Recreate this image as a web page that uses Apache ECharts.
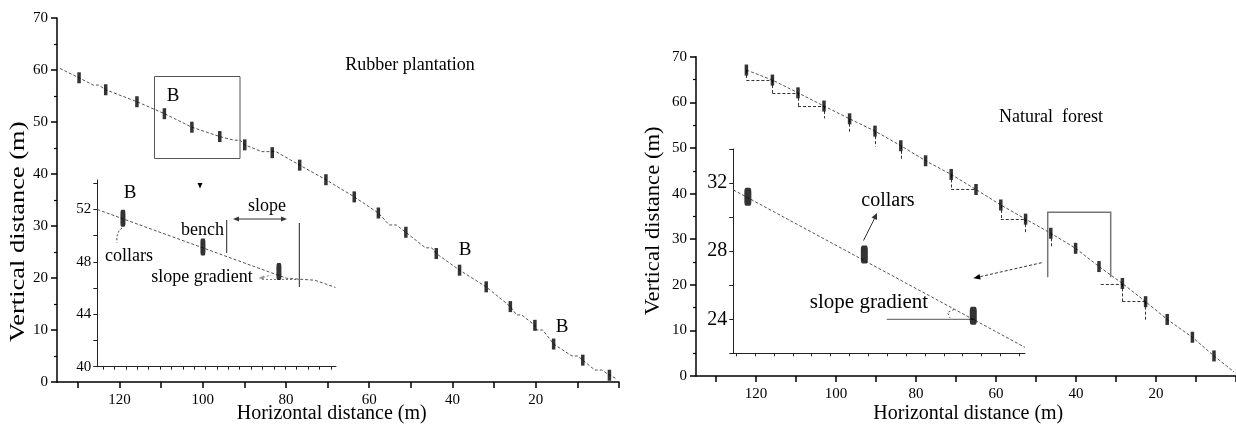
<!DOCTYPE html>
<html>
<head>
<meta charset="utf-8">
<script src="https://cdn.jsdelivr.net/npm/echarts@6/dist/echarts.min.js"></script>
<style>
html, body { margin: 0; padding: 0; background: #fff; }
#chart { width: 1236px; height: 425px; }
</style>
</head>
<body>
<div id="chart"></div>
<script>
// ---- Rubber plantation (left panel) ----
const rubberProfileX = [134.3, 129.7, 126.3, 125.0, 123.3, 115.8, 109.2, 102.6, 95.9, 92.5, 91.0, 89.9, 85.8, 82.4, 76.7, 70.4, 63.6, 57.8, 55.2, 53.5, 51.2, 46.5, 45.0, 43.9, 38.3, 31.9, 26.1, 24.6, 23.4, 20.2, 19.8, 18.3, 15.7, 11.3, 9.9, 8.7, 5.8, 4.1, 2.3, 0.5];
const rubberProfileY = [60.3, 58.5, 57.1, 57.1, 56.2, 53.9, 51.6, 49.0, 47.2, 46.5, 46.5, 45.6, 44.3, 44.3, 41.7, 38.9, 35.6, 32.5, 30.2, 30.2, 28.8, 25.8, 25.8, 24.7, 21.5, 18.3, 14.5, 12.9, 12.9, 10.9, 10.0, 10.0, 7.3, 5.0, 5.0, 4.2, 2.3, 2.3, 1.3, 0.6];
const rubberCollarX = [129.7, 123.3, 115.8, 109.2, 102.6, 95.9, 89.9, 83.3, 76.7, 70.4, 63.6, 57.8, 51.2, 43.9, 38.3, 31.9, 26.1, 20.2, 15.7, 8.7, 2.3];
const rubberCollarY = [58.5, 56.2, 53.9, 51.6, 49.0, 47.2, 45.6, 44.1, 41.7, 38.9, 35.6, 32.5, 28.8, 24.7, 21.5, 18.3, 14.5, 10.9, 7.3, 4.2, 1.3];
// inset "B" (local position units)
const rubberInsetLineX = [-0.5, 16.1, 18.6, 20.4];
const rubberInsetLineY = [52.0, 46.75, 46.6, 46.05];
const rubberInsetCollarX = [1.75, 8.77, 15.44];
const rubberInsetCollarY = [51.33, 49.14, 47.27];

// ---- Natural forest (right panel) ----
const forestCollarX = [122.4, 115.9, 109.5, 103.0, 96.6, 90.25, 83.8, 77.6, 71.2, 65.0, 58.8, 52.6, 46.3, 40.1, 34.25, 28.4, 22.6, 17.2, 10.9, 5.5];
const forestCollarY = [67.1, 64.9, 62.1, 59.2, 56.4, 53.7, 50.5, 47.2, 44.2, 40.9, 37.5, 34.4, 31.3, 28.0, 24.0, 20.3, 16.3, 12.4, 8.5, 4.4];
const forestEndX = 0.5;
const forestEndY = 0.9;
// dashed bench / step segments [x1, y1, x2, y2]
const forestBenches = [
  [122.4, 67.1, 122.4, 64.9], [122.4, 64.9, 115.9, 64.9],
  [115.9, 64.9, 115.9, 62.0], [115.9, 62.0, 109.5, 62.0],
  [109.5, 62.1, 109.5, 59.2], [109.5, 59.2, 103.0, 59.2],
  [103.0, 59.2, 103.0, 56.5], [96.6, 56.4, 96.6, 53.6],
  [90.25, 53.7, 90.25, 50.3], [83.8, 50.5, 83.8, 47.4],
  [71.2, 44.2, 71.2, 40.9], [71.2, 40.9, 65.0, 40.9],
  [58.8, 37.5, 58.8, 34.4], [58.8, 34.4, 52.6, 34.4],
  [52.6, 34.4, 52.6, 31.3], [46.3, 31.3, 46.3, 28.0],
  [33.8, 20.1, 28.4, 20.1], [28.4, 20.3, 28.4, 16.3],
  [28.4, 16.3, 22.6, 16.3], [22.6, 16.3, 22.6, 12.3]
];
const forestInsetLineX = [-0.15, 15.3];
const forestInsetLineY = [31.6, 22.35];
const forestInsetCollarX = [0.62, 6.79, 12.56];
const forestInsetCollarY = [31.2, 27.8, 24.2];

// ---- ticks ----
const mainXTicks = [0, 10, 20, 30, 40, 50, 60, 70, 80, 90, 100, 110, 120, 130];
const mainXLabels = [20, 40, 60, 80, 100, 120];
const rubberInsetXTicks = [0, 1, 2, 3, 4, 5, 6, 7, 8, 9, 10, 11, 12, 13, 14, 15, 16, 17, 18, 19, 20];
const rubberInsetYTicks = [40, 42, 44, 46, 48, 50, 52, 54];
const rubberInsetYLabels = [40, 44, 48, 52];
const forestInsetXTicks = [0, 1, 2, 3, 4, 5, 6, 7, 8, 9, 10, 11, 12, 13, 14, 15];
const forestInsetYTicks = [22, 24, 26, 28, 30, 32, 34];
const forestInsetYLabels = [24, 28, 32];

const zip = (xs, ys) => xs.map((x, i) => [x, ys[i]]);
const FONT = "Liberation Serif";

const chart = echarts.init(document.getElementById("chart"));

const mainX = (grid) => ({
  type: "value", gridIndex: grid, min: 0, max: 135, inverse: true,
  axisLine: { onZero: false, lineStyle: { color: "#000", width: 1.5 } },
  axisTick: { customValues: mainXTicks, length: 6, lineStyle: { width: 1.5 } },
  axisLabel: { customValues: mainXLabels, color: "#000", fontFamily: FONT, fontSize: 15, margin: 11 },
  splitLine: { show: false },
});
const mainY = (grid) => ({
  type: "value", gridIndex: grid, min: 0, max: 70, interval: 10,
  axisLine: { show: true, onZero: false, lineStyle: { color: "#000", width: 1.5 } },
  axisTick: { length: 6, lineStyle: { width: 1.5 } },
  minorTick: { show: true, splitNumber: 2, length: 3, lineStyle: { color: "#000", width: 1.2 } },
  axisLabel: { color: "#000", fontFamily: FONT, fontSize: 15, margin: 9 },
  splitLine: { show: false },
});
const insetX = (grid, min, max, ticks) => ({
  type: "value", gridIndex: grid, min: min, max: max,
  axisLine: { onZero: false, lineStyle: { color: "#222", width: 1 } },
  axisTick: { customValues: ticks, length: 3, lineStyle: { color: "#222" } },
  axisLabel: { show: false },
  splitLine: { show: false },
});
const insetY = (grid, min, max, ticks, labels, size) => ({
  type: "value", gridIndex: grid, min: min, max: max,
  axisLine: { show: true, onZero: false, lineStyle: { color: "#222", width: 1 } },
  axisTick: { customValues: ticks, length: 4, lineStyle: { color: "#222" } },
  axisLabel: { customValues: labels, color: "#000", fontFamily: FONT, fontSize: size, margin: 6 },
  splitLine: { show: false },
});

const profileStyle = { color: "#555", width: 1, type: [3, 2] };

const txt = (x, y, text, size, extra) => Object.assign({
  type: "text", x: x, y: y, silent: true,
  style: { text: text, fill: "#000", font: size + "px '" + FONT + "'", align: "center", verticalAlign: "middle" },
}, extra || {});
const seg = (x1, y1, x2, y2, stroke, width, dash) => ({
  type: "line", silent: true,
  shape: { x1: x1, y1: y1, x2: x2, y2: y2 },
  style: { stroke: stroke, lineWidth: width, lineDash: dash || null },
});
const tri = (pts, fill) => ({ type: "polygon", silent: true, shape: { points: pts }, style: { fill: fill } });

const option = {
  animation: false,
  backgroundColor: "#fff",
  grid: [
    { left: 57, top: 18, width: 562, height: 364 },
    { left: 97.3, top: 180, width: 238.7, height: 186.7 },
    { left: 696, top: 56.8, width: 540.5, height: 319.2 },
    { left: 733.3, top: 149, width: 291.7, height: 204.3 },
  ],
  xAxis: [
    mainX(0),
    insetX(1, -0.5, 20.45, rubberInsetXTicks),
    mainX(2),
    insetX(3, -0.15, 15.3, forestInsetXTicks),
  ],
  yAxis: [
    mainY(0),
    insetY(1, 40, 54.25, rubberInsetYTicks, rubberInsetYLabels, 15),
    mainY(2),
    insetY(3, 22, 34, forestInsetYTicks, forestInsetYLabels, 20),
  ],
  series: [
    { type: "line", xAxisIndex: 0, yAxisIndex: 0, data: zip(rubberProfileX, rubberProfileY),
      symbol: "none", lineStyle: profileStyle, z: 2 },
    { type: "scatter", xAxisIndex: 0, yAxisIndex: 0, data: zip(rubberCollarX, rubberCollarY),
      symbol: "rect", symbolSize: [3.5, 11], itemStyle: { color: "#000" }, z: 3 },
    { type: "line", xAxisIndex: 1, yAxisIndex: 1, data: zip(rubberInsetLineX, rubberInsetLineY),
      symbol: "none", lineStyle: profileStyle, z: 2 },
    { type: "scatter", xAxisIndex: 1, yAxisIndex: 1, data: zip(rubberInsetCollarX, rubberInsetCollarY),
      symbol: "roundRect", symbolSize: [5, 17], itemStyle: { color: "#000" }, z: 3 },
    { type: "line", xAxisIndex: 2, yAxisIndex: 2,
      data: zip(forestCollarX, forestCollarY).concat([[forestEndX, forestEndY]]),
      symbol: "none", lineStyle: profileStyle, z: 2 },
    { type: "lines", coordinateSystem: "cartesian2d", xAxisIndex: 2, yAxisIndex: 2,
      data: forestBenches.map((s) => ({ coords: [[s[0], s[1]], [s[2], s[3]]] })),
      lineStyle: { color: "#333", width: 1, type: [3, 2], opacity: 1 }, z: 2 },
    { type: "scatter", xAxisIndex: 2, yAxisIndex: 2, data: zip(forestCollarX, forestCollarY),
      symbol: "rect", symbolSize: [3.5, 11], itemStyle: { color: "#000" }, z: 3 },
    { type: "line", xAxisIndex: 3, yAxisIndex: 3, data: zip(forestInsetLineX, forestInsetLineY),
      symbol: "none", lineStyle: profileStyle, z: 2 },
    { type: "scatter", xAxisIndex: 3, yAxisIndex: 3, data: zip(forestInsetCollarX, forestInsetCollarY),
      symbol: "roundRect", symbolSize: [7, 18], itemStyle: { color: "#000" }, z: 3 },
  ],
  graphic: [
    // axis names
    txt(18.5, 231.7, "Vertical distance (m)", 21, { rotation: Math.PI / 2, scaleX: 1.26 }),
    txt(653.3, 220.8, "Vertical distance (m)", 21, { rotation: Math.PI / 2, scaleX: 1.08 }),
    txt(331.7, 414, "Horizontal distance (m)", 20),
    txt(968.3, 414, "Horizontal distance (m)", 20),
    // titles
    txt(410, 65, "Rubber plantation", 18),
    txt(1051, 117, "Natural  forest", 18),

    // left panel annotations
    { type: "rect", silent: true, shape: { x: 154.5, y: 76.5, width: 85.5, height: 82 },
      style: { fill: "none", stroke: "#555", lineWidth: 1 } },
    tri([[197.5, 183], [202.5, 183], [200, 188.5]], "#000"),
    txt(173, 96, "B", 19),
    txt(465, 250, "B", 19),
    txt(562, 327, "B", 19),
    txt(130, 193, "B", 19),
    txt(129, 256, "collars", 18),
    { type: "bezierCurve", silent: true,
      shape: { x1: 122, y1: 228, x2: 117, y2: 243, cpx1: 116, cpy1: 232 },
      style: { stroke: "#333", lineWidth: 1, lineDash: [2, 2], fill: "none" } },
    txt(202.5, 230, "bench", 18),
    txt(267, 206, "slope", 18),
    seg(236, 219, 284, 219, "#333", 1),
    tri([[233, 219], [239, 216.5], [239, 221.5]], "#333"),
    tri([[287, 219], [281, 216.5], [281, 221.5]], "#333"),
    seg(226.7, 220, 226.7, 253, "#222", 1),
    seg(299.3, 223, 299.3, 287, "#222", 1),
    txt(202, 277, "slope gradient", 18),
    seg(262, 279.5, 300, 279.5, "#777", 1, [2, 2]),
    seg(263, 277.5, 271, 275, "#777", 1, [2, 2]),
    tri([[258.5, 278], [264, 275.5], [264, 280]], "#999"),

    // right panel annotations
    { type: "polyline", silent: true,
      shape: { points: [[1047.7, 277.3], [1047.7, 212.3], [1110.7, 212.3], [1110.7, 277.3]] },
      style: { stroke: "#777", lineWidth: 1.5, fill: "none" } },
    seg(1041.7, 262.7, 980, 276.7, "#333", 1, [3, 2]),
    tri([[973.3, 278.3], [980.7, 279.4], [979.5, 274.1]], "#000"),
    txt(888, 201, "collars", 20),
    seg(863.5, 240.5, 874.5, 218.5, "#333", 1),
    tri([[877, 213], [877, 220], [871.5, 217.5]], "#333"),
    txt(869, 302.7, "slope gradient", 21),
    seg(886.7, 319.3, 975, 319.3, "#777", 1.2),
    { type: "polyline", silent: true,
      shape: { points: [[954, 309.5], [947.5, 312.5], [950, 318]] },
      style: { stroke: "#555", lineWidth: 1, lineDash: [2, 2], fill: "none" } },
  ],
};

chart.setOption(option);
window.addEventListener("resize", () => chart.resize());
</script>
</body>
</html>
